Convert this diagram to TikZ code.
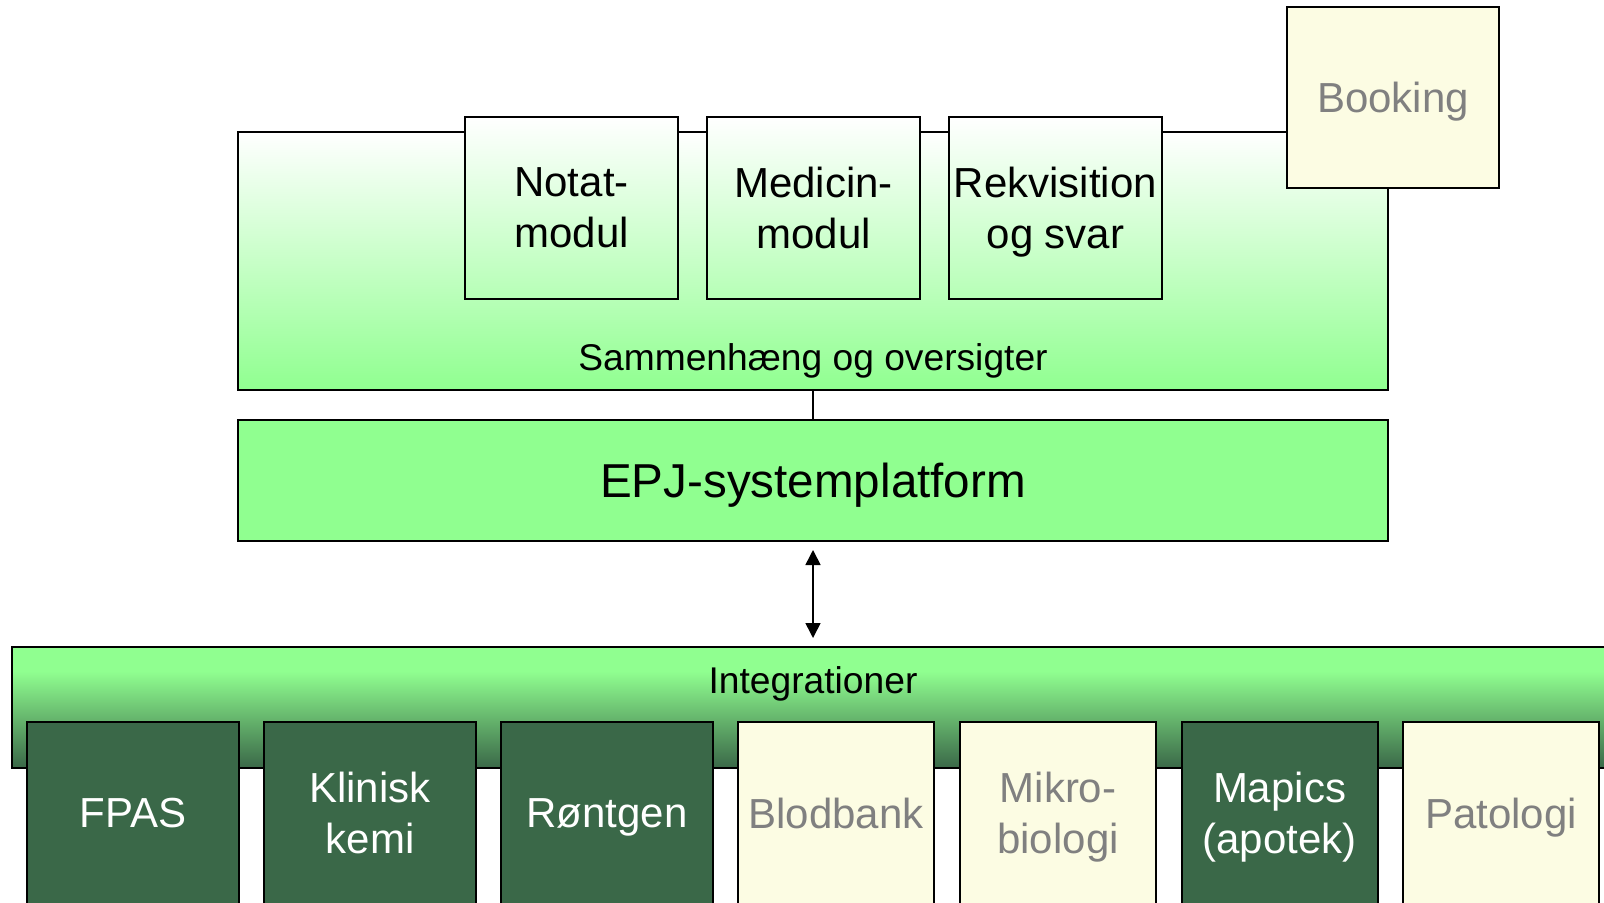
\documentclass[tikz,border=0pt]{standalone}
\usepackage{fontspec}
\setmainfont{Liberation Sans}
\usetikzlibrary{arrows.meta}
\definecolor{lgreen}{HTML}{90FF90}
\definecolor{mgreen}{HTML}{B6FFB6}
\definecolor{dgreen}{HTML}{3A6848}
\definecolor{lyellow}{HTML}{FCFCE3}
\definecolor{gtext}{HTML}{808080}
\pgfdeclareverticalshading{intshade}{100bp}{color(0bp)=(dgreen); color(25bp)=(dgreen); color(65bp)=(lgreen); color(100bp)=(lgreen)}
\tikzset{
  box/.style={draw=black, line width=1pt, inner sep=0pt, align=center, text depth=0pt},
  samshade/.style={box, top color=white, bottom color=lgreen},
  modbox/.style={box, top color=white, bottom color=mgreen, minimum width=106.5pt, minimum height=91pt,
     font=\fontsize{21}{25.5}\selectfont},
  yellowbox/.style={box, fill=lyellow, text=gtext, font=\fontsize{21}{25.5}\selectfont},
  darkbox/.style={box, fill=dgreen, text=white, font=\fontsize{21}{25.5}\selectfont},
  wide/.style={minimum width=106pt, minimum height=91pt},
  narrow/.style={minimum width=98pt, minimum height=91pt},
  label/.style={inner sep=0pt, anchor=base, font=\fontsize{18.6}{22}\selectfont},
  conn/.style={draw=black, line width=0.8pt},
  dblarrow/.style={conn, {Triangle[width=7.5pt,length=7.5pt]}-{Triangle[width=7.5pt,length=7.5pt]}, shorten <=4pt, shorten >=4pt}
}
\begin{document}
\begin{tikzpicture}[x=0.5pt, y=-0.5pt]
\useasboundingbox (0,0) rectangle (1604,903);
\clip (0,0) rectangle (1604,903);
% upper area
\node[samshade, minimum width=575pt, minimum height=129pt] (sam) at (813,261) {};
\node[label] (samlabel) at (813,371) {Sammenhæng og oversigter};
\node[modbox] (notat) at (571.5,208) {Notat-\\modul};
\node[modbox] (medicin) at (813.5,208) {Medicin-\\modul};
\node[modbox] (rekv) at (1055.5,208) {Rekvisition\\og svar};
\node[yellowbox, minimum width=106pt, minimum height=90.5pt] (booking) at (1393,97.5) {Booking};
% platform
\node[box, fill=lgreen, minimum width=575pt, minimum height=60.5pt, font=\fontsize{23.8}{28}\selectfont] (epj) at (813,480.5) {EPJ-systemplatform};
\draw[conn] (sam.south) -- (epj.north);
% integrations
\node[box, shading=intshade, minimum width=804pt, minimum height=60.5pt] (int) at (816,707.5) {};
\node[label] (intlabel) at (813,693) {Integrationer};
\draw[dblarrow] (epj.south) -- (epj.south |- int.north);
% systems
\node[darkbox, wide] (fpas) at (133,813) {FPAS};
\node[darkbox, wide] (klinisk) at (370,813) {Klinisk\\kemi};
\node[darkbox, wide] (rontgen) at (607,813) {Røntgen};
\node[yellowbox, narrow] (blodbank) at (836,813) {Blodbank};
\node[yellowbox, narrow] (mikro) at (1058,813) {Mikro-\\biologi};
\node[darkbox, narrow] (mapics) at (1279.5,813) {Mapics\\(apotek)};
\node[yellowbox, narrow] (patologi) at (1501,813) {Patologi};
\end{tikzpicture}
\end{document}
